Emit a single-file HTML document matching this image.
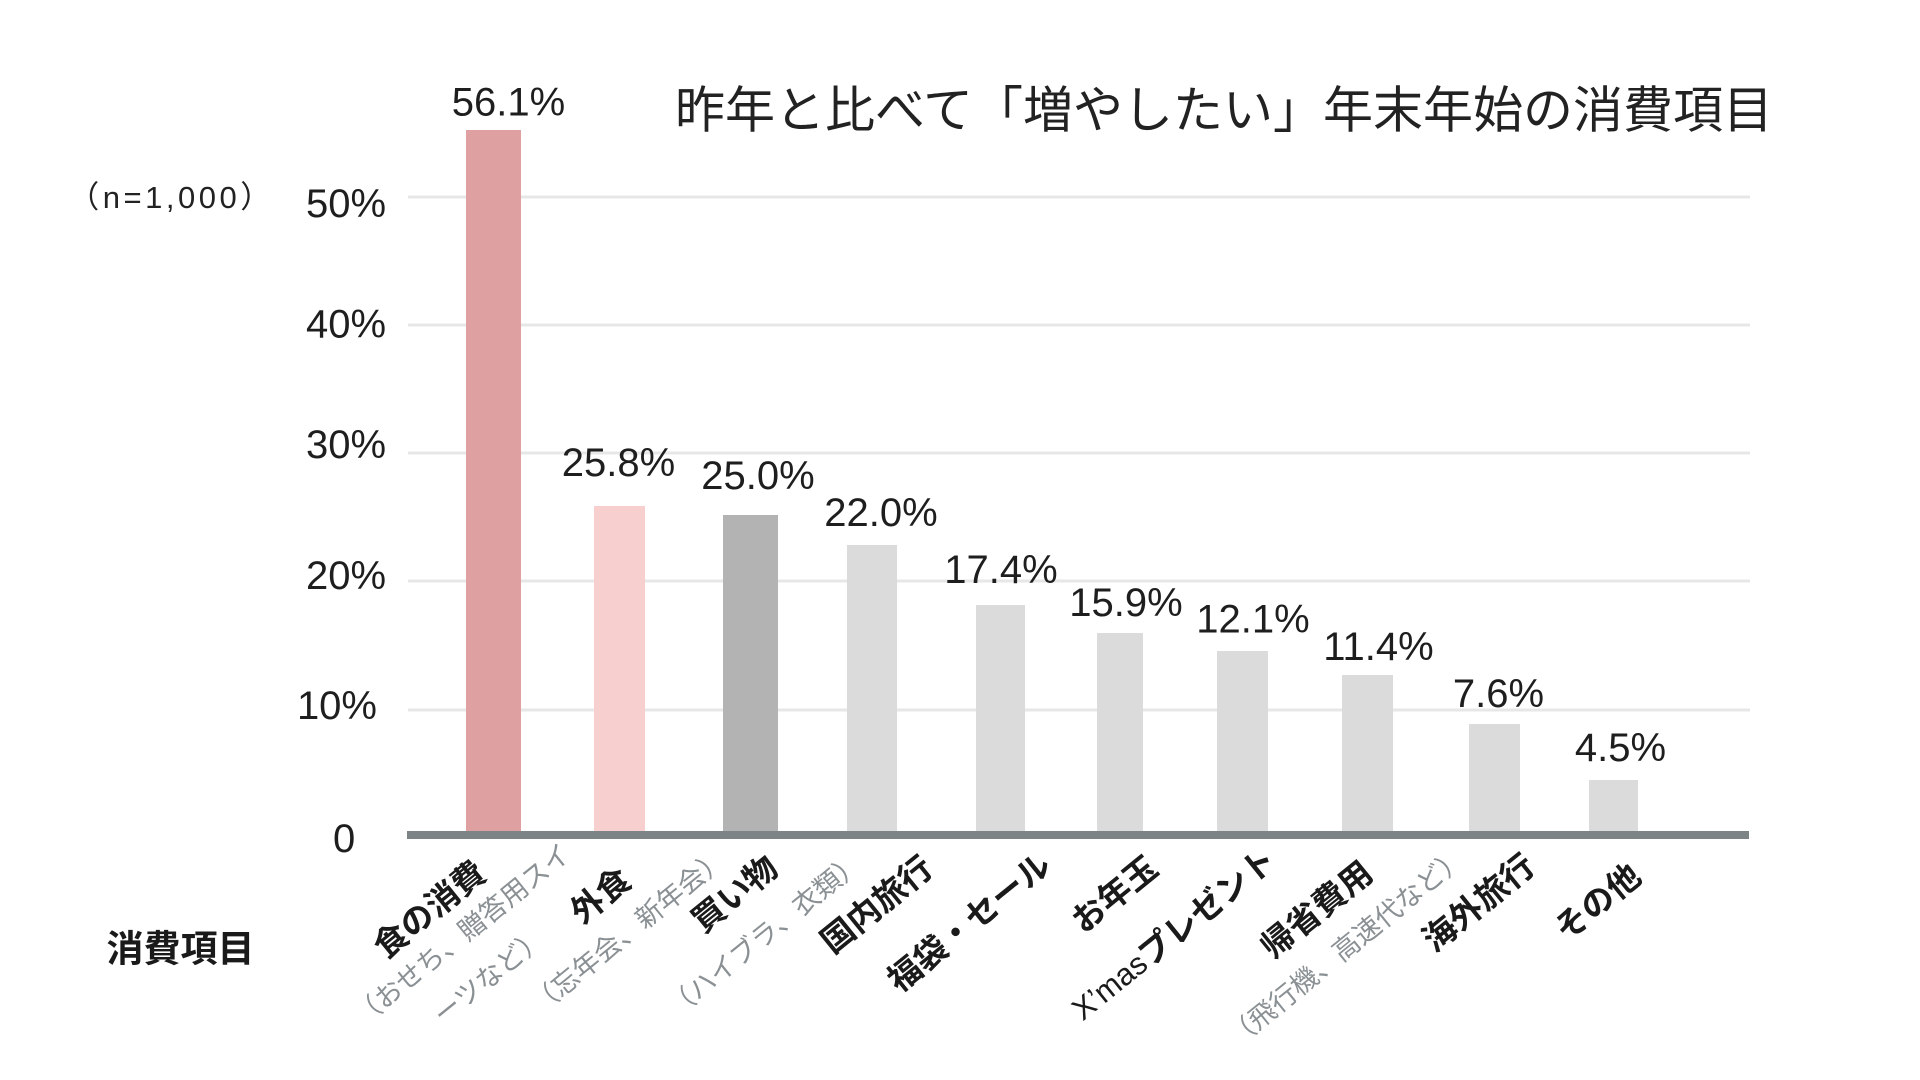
<!DOCTYPE html>
<html>
<head>
<meta charset="utf-8">
<style>
html,body{margin:0;padding:0;background:#ffffff;}
svg{display:block;}
text{font-family:"Liberation Sans","Noto Sans CJK JP",sans-serif;}
</style>
</head>
<body>
<svg width="1920" height="1080" viewBox="0 0 1920 1080" xmlns="http://www.w3.org/2000/svg">
<rect width="1920" height="1080" fill="#ffffff"/>

<!-- gridlines -->
<g stroke="#e7e7e7" stroke-width="3">
<line x1="408" y1="197" x2="1750" y2="197"/>
<line x1="408" y1="325" x2="1750" y2="325"/>
<line x1="408" y1="453" x2="1750" y2="453"/>
<line x1="408" y1="581" x2="1750" y2="581"/>
<line x1="408" y1="710" x2="1750" y2="710"/>
</g>

<!-- bars -->
<rect x="466" y="130" width="55" height="703" fill="#dea0a0"/>
<rect x="594" y="506" width="51" height="327" fill="#f7cfcf"/>
<rect x="723" y="515" width="55" height="318" fill="#b3b3b3"/>
<rect x="847" y="545" width="50" height="288" fill="#dcdbdc"/>
<rect x="976" y="605" width="49" height="228" fill="#dcdbdc"/>
<rect x="1097" y="633" width="46" height="200" fill="#dcdbdc"/>
<rect x="1217" y="651" width="51" height="182" fill="#dcdbdc"/>
<rect x="1342" y="675" width="51" height="158" fill="#dcdbdc"/>
<rect x="1469" y="724" width="51" height="109" fill="#dcdbdc"/>
<rect x="1589" y="780" width="49" height="53" fill="#dcdbdc"/>

<!-- baseline -->
<rect x="407" y="831" width="1342" height="8" fill="#7d8485"/>

<!-- title -->
<text x="675" y="110.5" font-size="50" fill="#222222" dominant-baseline="central">昨年と比べて「増やしたい」年末年始の消費項目</text>

<!-- n -->
<text x="171.5" y="197.5" font-size="31" letter-spacing="3.5" fill="#222222" text-anchor="middle" dominant-baseline="central">（n=1,000）</text>

<!-- y ticks -->
<g font-size="40" fill="#1e1e1e" dominant-baseline="central">
<text x="306" y="204">50%</text>
<text x="306" y="324.5">40%</text>
<text x="306" y="445">30%</text>
<text x="306" y="576">20%</text>
<text x="377" y="706" text-anchor="end">10%</text>
<text x="333" y="839">0</text>
</g>

<!-- value labels -->
<g font-size="40" fill="#1e1e1e" text-anchor="middle" dominant-baseline="central">
<text x="508.5" y="102.5">56.1%</text>
<text x="618.5" y="463">25.8%</text>
<text x="758" y="476">25.0%</text>
<text x="881" y="513">22.0%</text>
<text x="1001" y="570">17.4%</text>
<text x="1126" y="603">15.9%</text>
<text x="1253" y="619.5">12.1%</text>
<text x="1378.5" y="647">11.4%</text>
<text x="1498.5" y="694">7.6%</text>
<text x="1620.5" y="748">4.5%</text>
</g>

<!-- axis title -->
<text x="180.5" y="949" font-size="37" font-weight="bold" fill="#1a1a1a" text-anchor="middle" dominant-baseline="central">消費項目</text>

<!-- category labels (main) -->
<g font-size="33" font-weight="bold" fill="#1a1a1a" text-anchor="end" dominant-baseline="central">
<text transform="translate(481,868) rotate(-39)">食の消費</text>
<text transform="translate(626,875) rotate(-39)">外食</text>
<text transform="translate(773,863) rotate(-39)">買い物</text>
<text transform="translate(928,863) rotate(-39)">国内旅行</text>
<text transform="translate(1046,860) rotate(-39)">福袋・セール</text>
<text transform="translate(1153,863) rotate(-39)">お年玉</text>
<text transform="translate(1271,855) rotate(-39)"><tspan font-weight="normal" font-size="31">X’mas</tspan>プレゼント</text>
<text transform="translate(1368,868) rotate(-39)">帰省費用</text>
<text transform="translate(1530,861) rotate(-39)">海外旅行</text>
<text transform="translate(1636,871) rotate(-39)">その他</text>
</g>

<!-- category labels (sub) -->
<g font-size="27" fill="#8a9093" text-anchor="end" dominant-baseline="central">
<text transform="translate(567,850) rotate(-39)">（おせち、贈答用スイ</text>
<text transform="translate(542,934) rotate(-39)">ーツなど）</text>
<text transform="translate(723,855) rotate(-39)">（忘年会、新年会）</text>
<text transform="translate(859,859) rotate(-39)">（ハイブラ、衣類）</text>
<text transform="translate(1462,854) rotate(-39)">（飛行機、高速代など）</text>
</g>
</svg>
</body>
</html>
